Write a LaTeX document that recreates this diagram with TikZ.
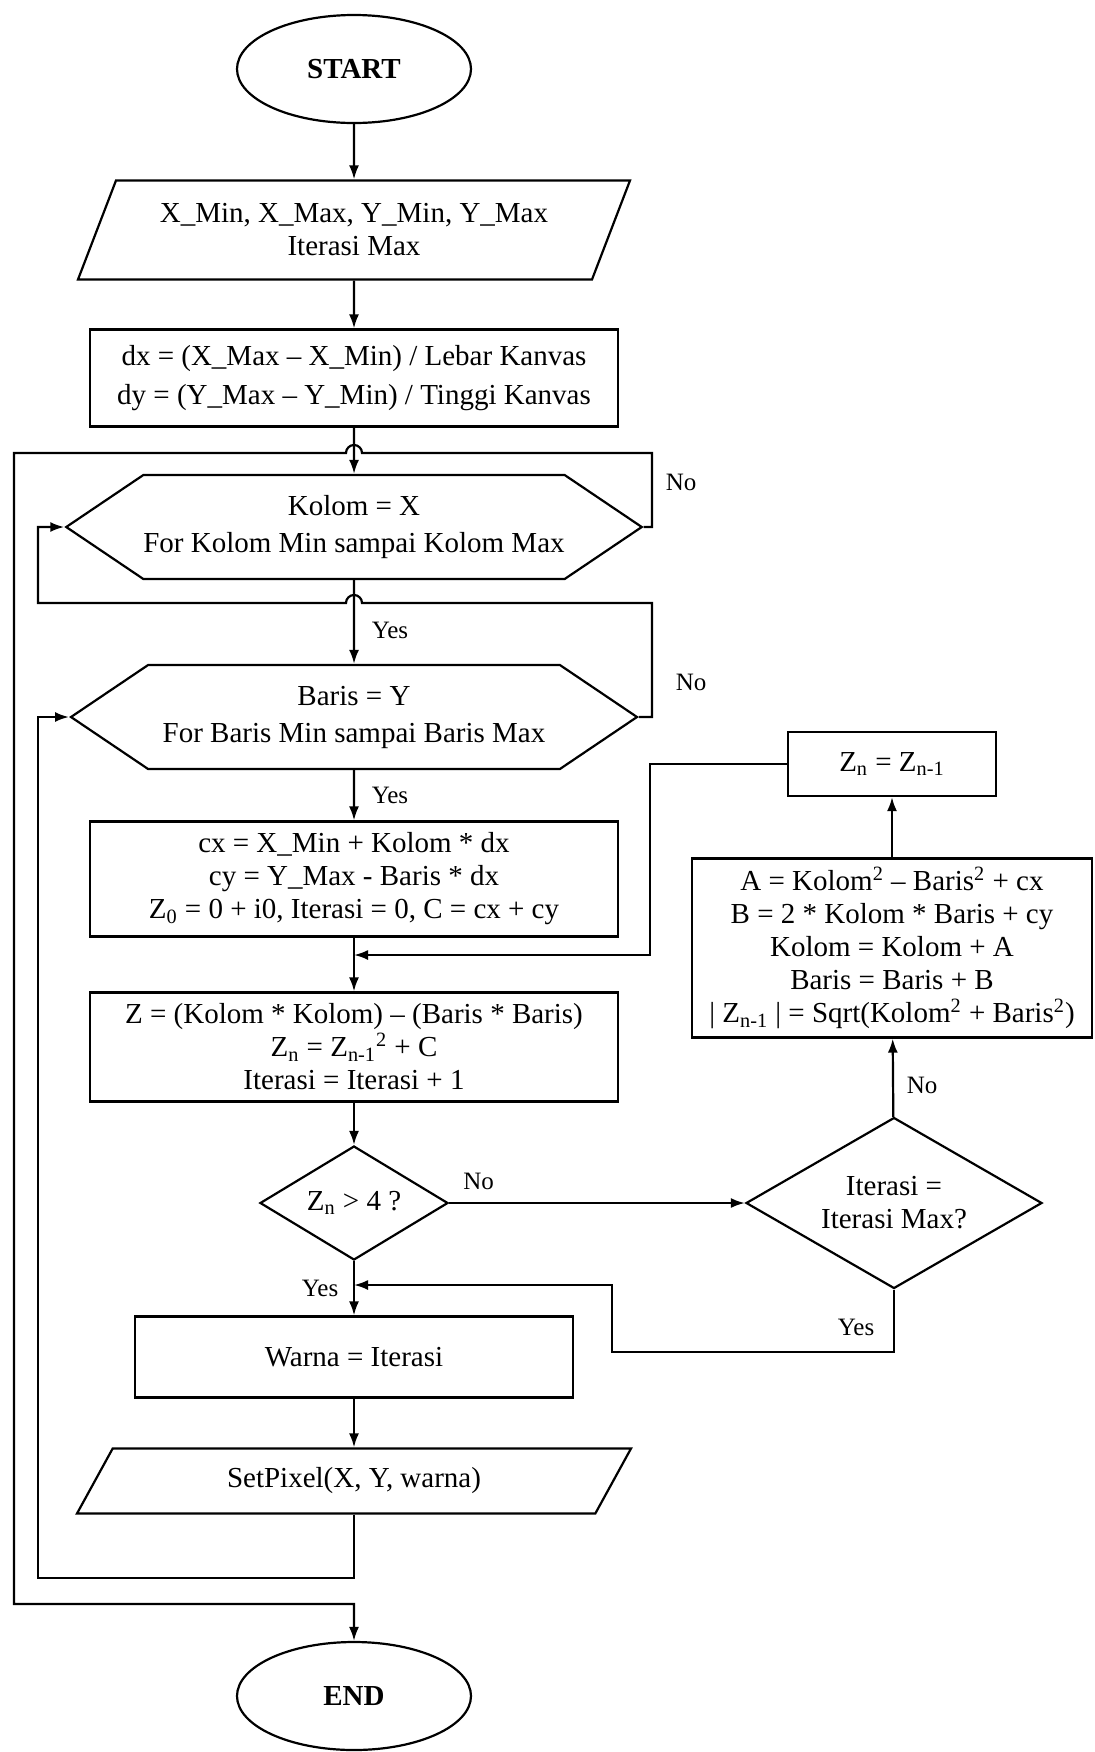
\documentclass[tikz,border=0pt]{standalone}
\usepackage{fontspec}
\setmainfont{Liberation Serif}
\usetikzlibrary{shapes.geometric,shapes.symbols,arrows.meta}

\begin{document}
\begin{tikzpicture}[x=0.5pt, y=-0.5pt, line width=1.1pt, >={Latex[length=7pt,width=5pt]},
    every node/.style={font=\fontsize{14.5}{16.5}\selectfont, align=center},
    term/.style={ellipse, draw, minimum width=117pt, minimum height=54pt, font=\fontsize{14.5}{16.5}\selectfont\bfseries},
    io/.style={trapezium, trapezium left angle=60, trapezium right angle=120, trapezium stretches body, draw, minimum height=49.5pt, minimum width=276pt},
    proc/.style={rectangle, draw, inner sep=3pt},
    loopbox/.style={signal, signal to=west and east, signal pointer angle=68, draw, inner xsep=0pt, minimum width=283pt, minimum height=52pt},
    cond/.style={diamond, draw, inner sep=0pt},
    lbl/.style={font=\fontsize{12.5}{14}\selectfont}]
    \path[fill=white, use as bounding box] (0,0) rectangle (1094,1752);

    \node[term] (start) at (354,69) {START};
    \node[io] (input) at (354,230) {X\_Min, X\_Max, Y\_Min, Y\_Max\\Iterasi Max};
    \node[proc, minimum width=264pt, minimum height=48.5pt] (delta) at (354,378) {dx = (X\_Max – X\_Min) / Lebar Kanvas\\[3pt]dy = (Y\_Max – Y\_Min) / Tinggi Kanvas};
    \node[loopbox] (kolom) at (354,527) {Kolom = X\\[2pt]For Kolom Min sampai Kolom Max};
    \node[loopbox] (baris) at (354,717) {Baris = Y\\[2pt]For Baris Min sampai Baris Max};
    \node[proc, minimum width=264pt, minimum height=57.5pt] (init) at (354,879) {cx = X\_Min + Kolom * dx\\cy = Y\_Max - Baris * dx\\Z\textsubscript{0} = 0 + i0, Iterasi = 0, C = cx + cy};
    \node[proc, minimum width=264pt, minimum height=54.5pt] (iterate) at (354,1047) {Z = (Kolom * Kolom) – (Baris * Baris)\\Z\textsubscript{n} = Z\textsubscript{n-1}\textsuperscript{2} + C\\Iterasi = Iterasi + 1};
    \node[cond, aspect=1.65, minimum width=94pt, minimum height=57pt] (cek) at (354,1203) {Z\textsubscript{n} > 4 ?};
    \node[cond, aspect=1.75, minimum width=148pt, minimum height=85.5pt] (iter) at (894,1203) {Iterasi =\\Iterasi Max?};
    \node[proc, minimum width=200pt, minimum height=89.5pt] (update) at (892,948) {A = Kolom\textsuperscript{2} – Baris\textsuperscript{2} + cx\\B = 2 * Kolom * Baris + cy\\Kolom = Kolom + A\\Baris = Baris + B\\| Z\textsubscript{n-1} | = Sqrt(Kolom\textsuperscript{2} + Baris\textsuperscript{2})};
    \node[proc, minimum width=104pt, minimum height=32pt] (keep) at (892,764) {Z\textsubscript{n} = Z\textsubscript{n-1}};
    \node[proc, minimum width=219pt, minimum height=40.5pt] (warna) at (354,1357) {Warna = Iterasi};
    \node[io, minimum height=32.5pt, minimum width=277pt, trapezium left angle=48, trapezium right angle=132] (setpix) at (354,1481) {SetPixel(X, Y, warna)};
    \node[term] (end) at (354,1696) {END};

    % corner points of the loops
    \coordinate (rk) at (652,453);
    \coordinate (hk) at (354,453);
    \coordinate (lk) at (14,453);
    \coordinate (bk) at (14,1604);
    \coordinate (rb) at (652,603);
    \coordinate (hb) at (354,603);
    \coordinate (lb) at (38,603);
    \coordinate (bs) at (38,1578);
    \coordinate (kz) at (650,955);
    \coordinate (jz) at (354,955);
    \coordinate (ry) at (612,1352);
    \coordinate (jy) at (354,1285);

    \draw[->] (start) -- (input);
    \draw[->] (input) -- (delta);
    \draw[->] (delta) -- (kolom);
    \draw[->] (kolom) -- node[pos=0.6, right=5pt, lbl] {Yes} (baris);
    \draw[->] (baris) -- node[midway, right=5pt, lbl] {Yes} (init);
    \draw[->] (init) -- (iterate);
    \draw[->] (iterate) -- (cek);
    \draw[->] (cek) -- node[pos=0.1, above=3pt, lbl] {No} (iter);
    \draw[->] (iter) -- node[pos=0.4, right=3pt, lbl] {No} (update);
    \draw[->] (update) -- (keep);
    \draw[->] (keep.west) -| (kz) -- (jz);
    \draw[->] (iter.south) |- node[pos=0.3, left=6pt, lbl] {Yes} (ry) |- (jy);
    \draw[->] (cek) -- node[midway, left=4pt, lbl] {Yes} (warna);
    \draw[->] (warna) -- (setpix);

    % loops back and exit
    \draw[->] (kolom.east) -| node[pos=0.8, right=3pt, lbl] {No} (rk) -- ([xshift=4pt]hk) arc[start angle=0, end angle=180, radius=4pt] -- (lk) -- (bk) -| (end.north);
    \draw[->] (baris.east) -| node[pos=0.65, right=8pt, lbl] {No} (rb) -- ([xshift=4pt]hb) arc[start angle=0, end angle=180, radius=4pt] -- (lb) |- (kolom.west);
    \draw[->] (setpix.south) |- (bs) |- (baris.west);
\end{tikzpicture}
\end{document}
